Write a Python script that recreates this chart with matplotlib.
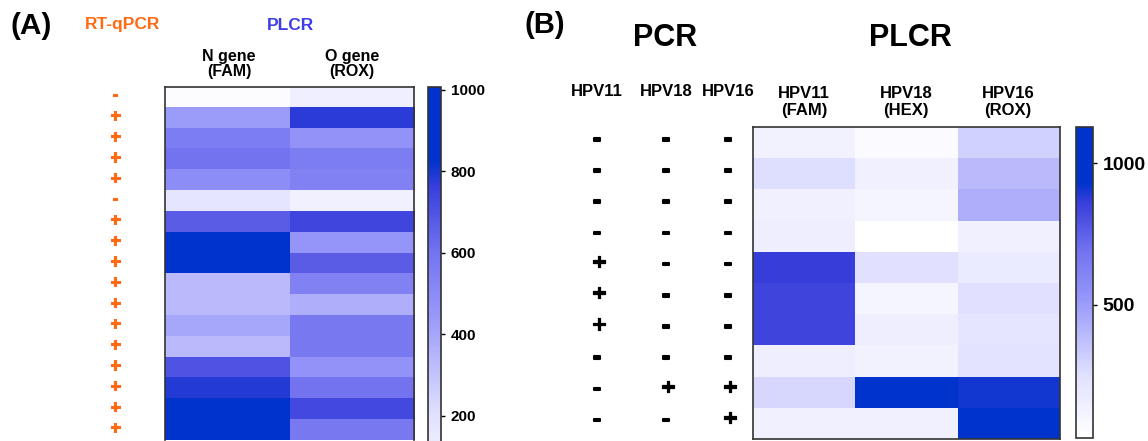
import numpy as np
import matplotlib
matplotlib.use("Agg")
import matplotlib.pyplot as plt
import matplotlib.patheffects as pe
from matplotlib.colors import LinearSegmentedColormap, Normalize

plt.rcParams['font.family'] = ['Liberation Sans', 'DejaVu Sans']
plt.rcParams['font.weight'] = 'bold'

# ---------------- data ----------------
a_columns = ["N gene\n(FAM)", "O gene\n(ROX)"]
a_rtqpcr = ["-", "+", "+", "+", "+", "-", "+", "+", "+", "+", "+", "+", "+", "+", "+", "+", "+"]
a_n_gene = [20, 435, 555, 600, 490, 170, 670, 950, 950, 335, 335, 400, 335, 700, 785, 960, 960]
a_o_gene = [110, 775, 470, 560, 540, 100, 740, 455, 670, 540, 370, 580, 580, 470, 600, 730, 580]
a_cbar_ticks = [200, 400, 600, 800, 1000]

b_pcr_columns = ["HPV11", "HPV18", "HPV16"]
b_pcr_hpv11 = ["-", "-", "-", "-", "+", "+", "+", "-", "-", "-"]
b_pcr_hpv18 = ["-", "-", "-", "-", "-", "-", "-", "-", "+", "-"]
b_pcr_hpv16 = ["-", "-", "-", "-", "-", "-", "-", "-", "+", "+"]
b_columns = ["HPV11\n(FAM)", "HPV18\n(HEX)", "HPV16\n(ROX)"]
b_fam = [120, 260, 140, 150, 865, 840, 840, 150, 285, 140]
b_hex = [65, 140, 105, 30, 250, 105, 150, 120, 1100, 140]
b_rox = [305, 395, 435, 140, 175, 250, 215, 230, 905, 1100]
b_cbar_ticks = [500, 1000]

# ---------------- layout helpers ----------------
W, H = 1148, 441
fig = plt.figure(figsize=(W / 100, H / 100), dpi=100)

def ax_px(x0, y0, x1, y1):
    return fig.add_axes([x0 / W, 1 - y1 / H, (x1 - x0) / W, (y1 - y0) / H])

def txt(x, y, s, **kw):
    return fig.text(x / W, 1 - y / H, s, **kw)

cmap = LinearSegmentedColormap.from_list("plcr", [
    (0.0, (1, 1, 1)),
    (0.2, (225/255, 225/255, 1)),
    (0.45, (150/255, 150/255, 250/255)),
    (0.6, (115/255, 115/255, 240/255)),
    (0.76, (55/255, 62/255, 218/255)),
    (0.82, (0/255, 51/255, 204/255)),
    (1.0, (0/255, 51/255, 204/255)),
])

orange = "#FF6A13"
blue_t = "#3E3EE6"
edge = "#333333"

def bold_fx(color, lw):
    return [pe.withStroke(linewidth=lw, foreground=color)]

# ---------------- Panel A ----------------
norm_a = Normalize(vmin=0, vmax=1007)
data_a = np.column_stack([a_n_gene, a_o_gene])
nrow_a = len(a_n_gene)
row_h_a = 20.8
top_a = 86.7
axA = ax_px(165, top_a, 414, top_a + nrow_a * row_h_a)
axA.imshow(data_a, cmap=cmap, norm=norm_a, aspect='auto', interpolation='nearest')
axA.set_xticks([]); axA.set_yticks([])
for s in axA.spines.values():
    s.set_color(edge); s.set_linewidth(1.2)
axA.spines['bottom'].set_visible(False)

txt(10, 26, "(A)", fontsize=21.5, ha='left', va='center')
txt(123, 25, "RT-qPCR", fontsize=12.5, color=orange, ha='center', va='center')
txt(290, 25, "PLCR", fontsize=12.5, color=blue_t, ha='center', va='center')
col_cx_a = [229, 352]
for cx, lab in zip(col_cx_a, a_columns):
    txt(cx, 64, lab, fontsize=11.5, ha='center', va='center', linespacing=1.05)
for i, s in enumerate(a_rtqpcr):
    y = top_a + row_h_a * (i + 0.5)
    if s == "+":
        txt(115, y - 1, "+", fontsize=13, color=orange, ha='center', va='center',
            path_effects=bold_fx(orange, 0.8))
    else:
        txt(115, y - 2, "-", fontsize=13, color=orange, ha='center', va='center',
            path_effects=bold_fx(orange, 0.8))

# colorbar A (extends below the figure edge like the reference crop)
cb_top_a = 87
cb_bot_a = 90 + 1000 * (81.5 / 200)
caxA = ax_px(428, cb_top_a, 441, cb_bot_a)
sm_a = plt.cm.ScalarMappable(norm=norm_a, cmap=cmap)
cbA = fig.colorbar(sm_a, cax=caxA)
cbA.set_ticks(a_cbar_ticks)
cbA.ax.tick_params(labelsize=11, length=3, width=1, colors='black', pad=4)
for lab in cbA.ax.get_yticklabels():
    lab.set_fontweight('bold')
cbA.outline.set_edgecolor(edge); cbA.outline.set_linewidth(1.2)

# ---------------- Panel B ----------------
norm_b = Normalize(vmin=30, vmax=1127)
data_b = np.column_stack([b_fam, b_hex, b_rox])
nrow_b = len(b_fam)
top_b, bot_b = 127, 439
row_h_b = (bot_b - top_b) / nrow_b
axB = ax_px(753, top_b, 1060, bot_b)
axB.imshow(data_b, cmap=cmap, norm=norm_b, aspect='auto', interpolation='nearest')
axB.set_xticks([]); axB.set_yticks([])
for s in axB.spines.values():
    s.set_color(edge); s.set_linewidth(1.2)

txt(524, 25, "(B)", fontsize=21, ha='left', va='center')
txt(665, 38, "PCR", fontsize=22, ha='center', va='center')
txt(910, 38, "PLCR", fontsize=22, ha='center', va='center')

pcr_x = [597, 666, 728]
for cx, lab in zip(pcr_x, b_pcr_columns):
    txt(cx, 92, lab, fontsize=12, ha='center', va='center')
col_cx_b = [804, 906, 1008]
for cx, lab in zip(col_cx_b, b_columns):
    txt(cx, 102, lab, fontsize=12, ha='center', va='center', linespacing=1.2)

for col_i, signs in enumerate([b_pcr_hpv11, b_pcr_hpv18, b_pcr_hpv16]):
    for i, s in enumerate(signs):
        y = top_b + row_h_b * (i + 0.5)
        if s == "+":
            txt(pcr_x[col_i] + 2, y - 4, "+", fontsize=16, ha='center', va='center',
                path_effects=bold_fx('black', 0.9))
        else:
            txt(pcr_x[col_i], y - 3, "-", fontsize=16, ha='center', va='center',
                path_effects=bold_fx('black', 1.5))

caxB = ax_px(1076, 127, 1093, 438)
sm_b = plt.cm.ScalarMappable(norm=norm_b, cmap=cmap)
cbB = fig.colorbar(sm_b, cax=caxB)
cbB.set_ticks(b_cbar_ticks)
cbB.ax.tick_params(labelsize=14, length=3, width=1, colors='black', pad=4)
for lab in cbB.ax.get_yticklabels():
    lab.set_fontweight('bold')
cbB.outline.set_edgecolor(edge); cbB.outline.set_linewidth(1.2)

fig.savefig("out.png", dpi=100)
